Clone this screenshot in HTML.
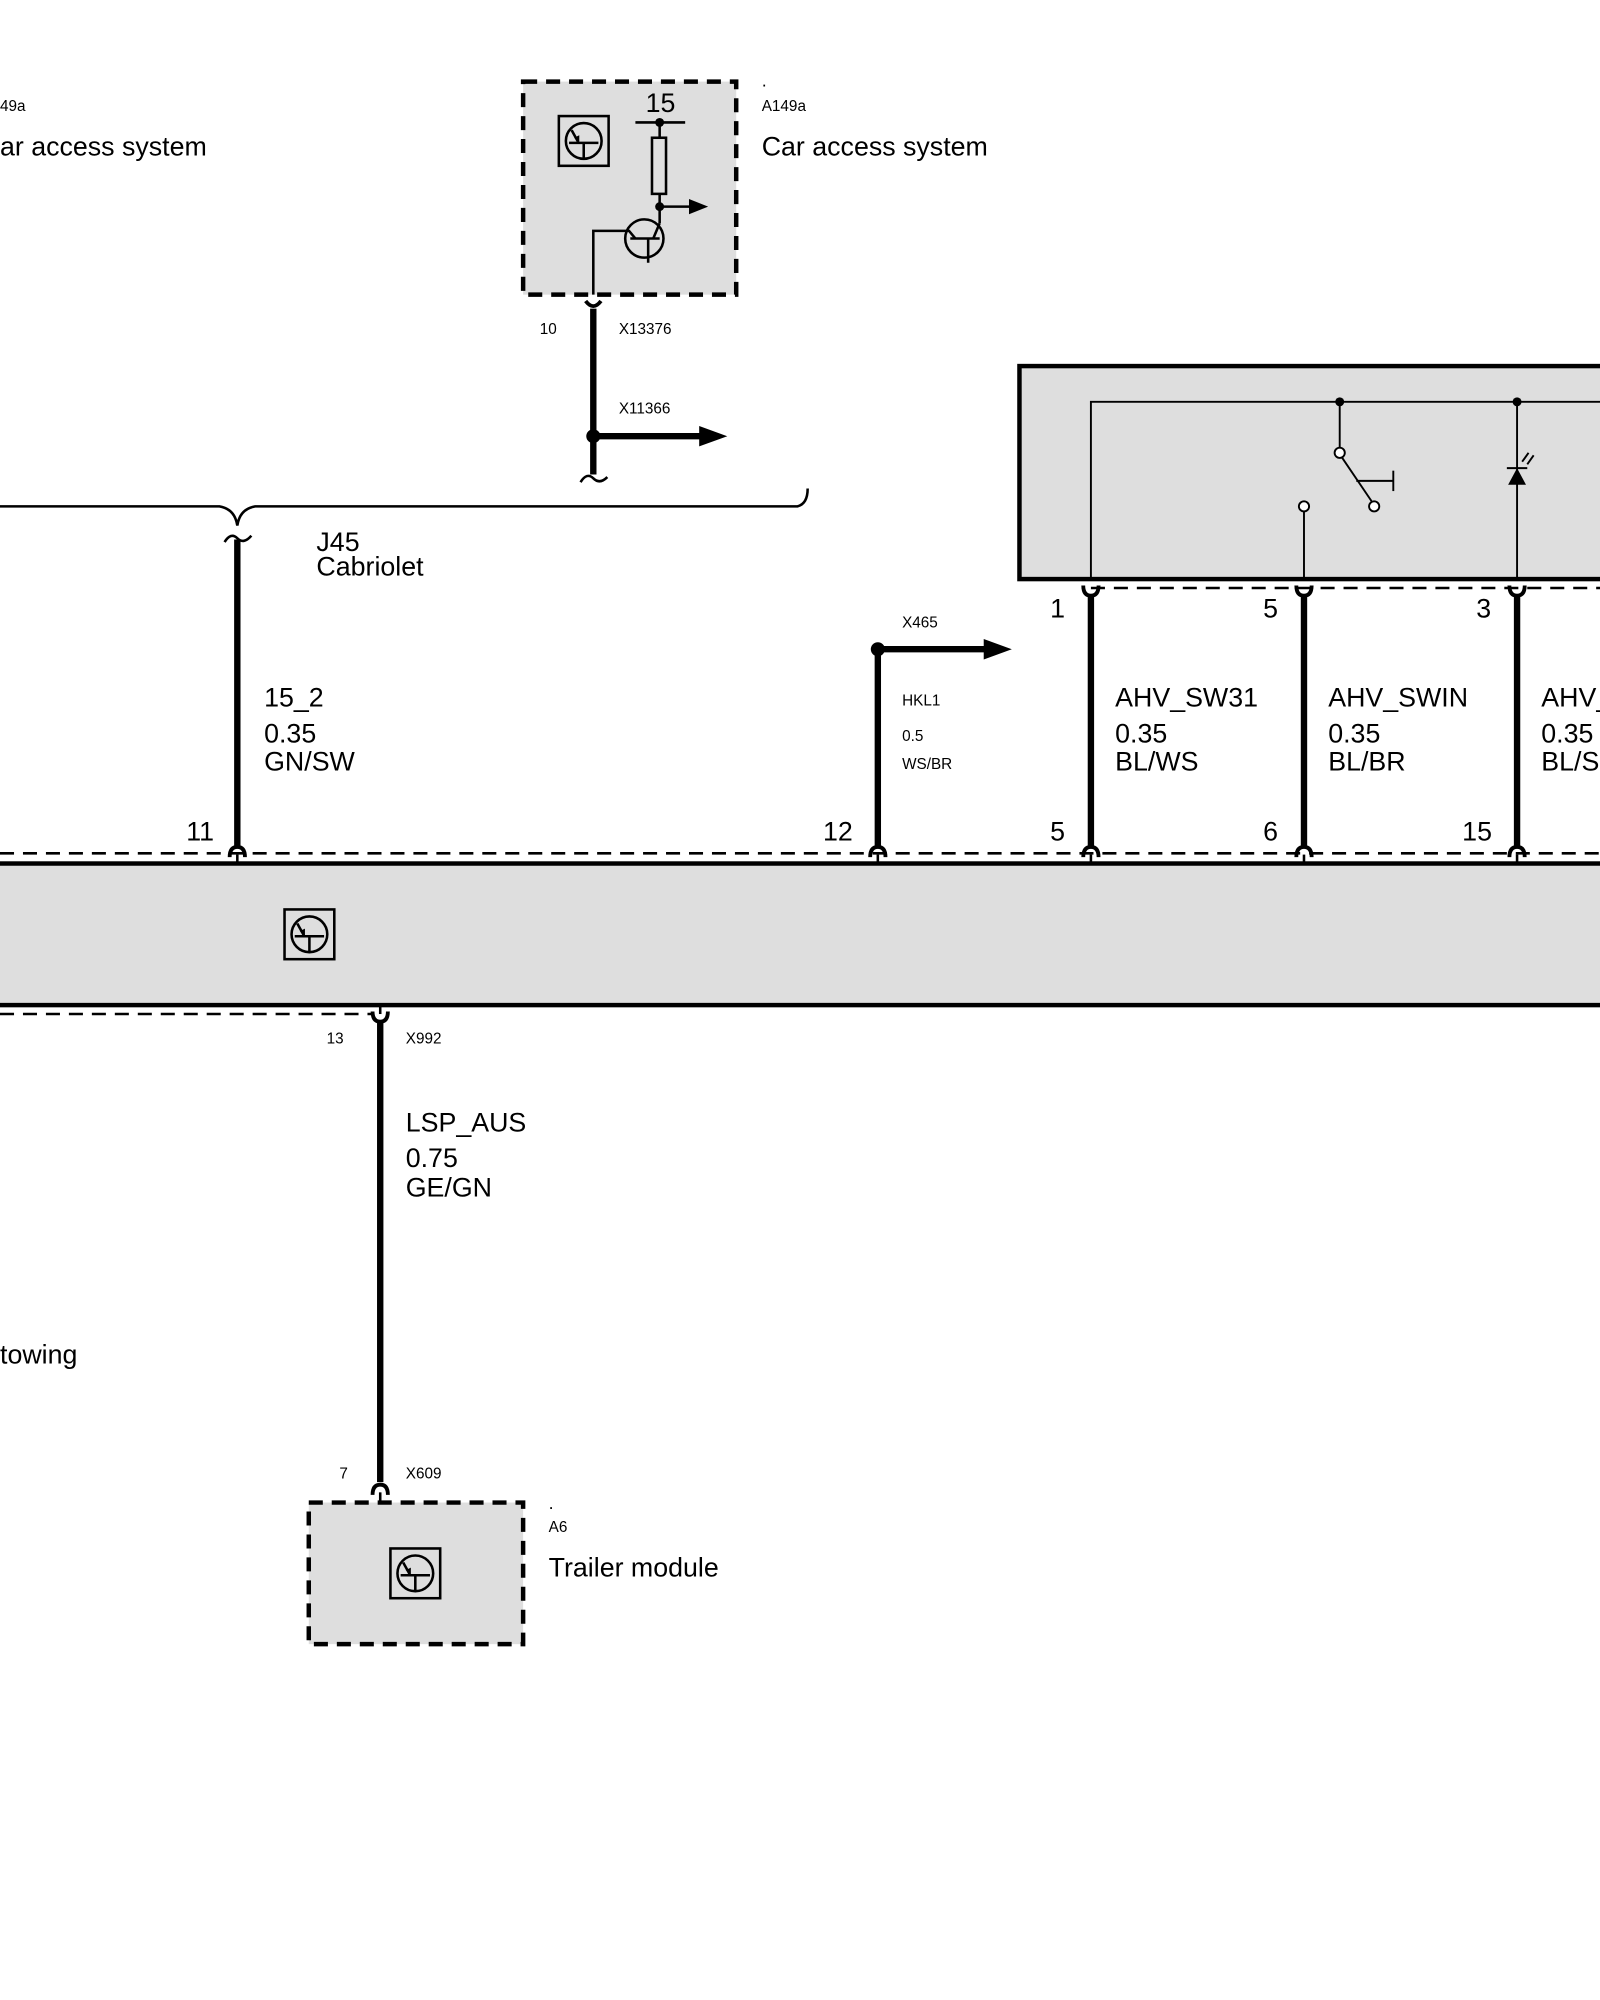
<!DOCTYPE html>
<html><head><style>html,body{margin:0;padding:0;background:#fff}svg{display:block}</style></head>
<body>
<svg width="1600" height="2000" viewBox="0 0 1254 1568" preserveAspectRatio="none" xmlns="http://www.w3.org/2000/svg" font-family="Liberation Sans, Arial, sans-serif">
<defs>
<g id="ic"><rect x="0" y="0" width="39" height="39" fill="none" stroke="#000" stroke-width="2"/><circle cx="19.5" cy="19.5" r="14" fill="none" stroke="#000" stroke-width="2"/><line x1="8" y1="21" x2="31" y2="21" stroke="#000" stroke-width="2"/><line x1="19.5" y1="21" x2="19.5" y2="33" stroke="#000" stroke-width="2"/><path d="M10 11 L15 20" stroke="#000" stroke-width="2"/><path d="M12 17 L16 21 L16 15 Z" fill="#000"/></g>
</defs>
<g fill="#000">
<text x="0" y="87" font-size="12">49a</text>
<text x="0" y="122" font-size="21">ar access system</text>
<text x="597" y="68" font-size="14">.</text>
<text x="597" y="87" font-size="12">A149a</text>
<text x="597" y="122" font-size="21">Car access system</text>
</g>
<rect x="410" y="64" width="167" height="167" fill="#dedede" stroke="#000" stroke-width="3.5" stroke-dasharray="11 7"/>
<use href="#ic" x="438" y="91"/>
<text x="506" y="88" font-size="21">15</text>
<line x1="498" y1="96" x2="537" y2="96" stroke="#000" stroke-width="2"/>
<circle cx="517" cy="96" r="3.5"/>
<line x1="517" y1="96" x2="517" y2="108" stroke="#000" stroke-width="2"/>
<rect x="511" y="108" width="11" height="44" fill="none" stroke="#000" stroke-width="2"/>
<line x1="517" y1="152" x2="517" y2="175" stroke="#000" stroke-width="2"/>
<circle cx="517" cy="162" r="3.5"/>
<line x1="517" y1="162" x2="545" y2="162" stroke="#000" stroke-width="2"/>
<path d="M540 156 L555 162 L540 168 Z"/>
<circle cx="505" cy="187" r="15" fill="none" stroke="#000" stroke-width="2"/>
<line x1="494" y1="187" x2="517" y2="187" stroke="#000" stroke-width="2"/>
<line x1="508" y1="187" x2="508" y2="206" stroke="#000" stroke-width="2"/>
<path d="M465 231 L465 181 L493 181 L498 187" fill="none" stroke="#000" stroke-width="2"/>
<path d="M517 175 L512 187" stroke="#000" stroke-width="2"/>
<path d="M459 236 Q465 244 471 236" fill="none" stroke="#000" stroke-width="3"/>
<line x1="465" y1="242" x2="465" y2="372" stroke="#000" stroke-width="5"/>
<circle cx="465" cy="342" r="5.5"/>
<line x1="465" y1="342" x2="552" y2="342" stroke="#000" stroke-width="5"/>
<path d="M548 334 L570 342 L548 350 Z"/>
<path d="M455 378 Q460 370 465 375 Q470 380 476 374" fill="none" stroke="#000" stroke-width="2"/>
<text x="423" y="262" font-size="12">10</text>
<text x="485" y="262" font-size="12">X13376</text>
<text x="485" y="324" font-size="12">X11366</text>
<path d="M0 397 L172 397 Q184 399 186 412 Q188 399 200 397 L625 397 Q633 395 633 383" fill="none" stroke="#000" stroke-width="2"/>
<path d="M176 425 Q181 417 186 422 Q191 427 197 420" fill="none" stroke="#000" stroke-width="2"/>
<line x1="186" y1="423" x2="186" y2="664" stroke="#000" stroke-width="5"/>
<text x="248" y="432" font-size="21">J45</text>
<text x="248" y="451" font-size="21">Cabriolet</text>
<text x="207" y="554" font-size="21">15_2</text>
<text x="207" y="582" font-size="21">0.35</text>
<text x="207" y="604" font-size="21">GN/SW</text>
<text x="146" y="659" font-size="21">11</text>
<line x1="688" y1="509" x2="688" y2="664" stroke="#000" stroke-width="5"/>
<circle cx="688" cy="509" r="5.5"/>
<line x1="688" y1="509" x2="775" y2="509" stroke="#000" stroke-width="5"/>
<path d="M771 501 L793 509 L771 517 Z"/>
<text x="707" y="492" font-size="12">X465</text>
<text x="707" y="553" font-size="12">HKL1</text>
<text x="707" y="581" font-size="12">0.5</text>
<text x="707" y="603" font-size="12">WS/BR</text>
<text x="645" y="659" font-size="21">12</text>
<rect x="799" y="287" width="470" height="167" fill="#dedede" stroke="#000" stroke-width="3.5"/>
<path d="M855 454 L855 315 L1260 315" fill="none" stroke="#000" stroke-width="1.5"/>
<circle cx="1050" cy="315" r="3.5"/><circle cx="1189" cy="315" r="3.5"/>
<line x1="1050" y1="315" x2="1050" y2="351" stroke="#000" stroke-width="1.5"/>
<circle cx="1050" cy="355" r="4" fill="#fff" stroke="#000" stroke-width="1.5"/>
<line x1="1052" y1="359" x2="1075" y2="393" stroke="#000" stroke-width="1.5"/>
<circle cx="1077" cy="397" r="4" fill="#fff" stroke="#000" stroke-width="1.5"/>
<line x1="1063" y1="377" x2="1092" y2="377" stroke="#000" stroke-width="1.5"/>
<line x1="1092" y1="369" x2="1092" y2="385" stroke="#000" stroke-width="1.5"/>
<circle cx="1022" cy="397" r="4" fill="#fff" stroke="#000" stroke-width="1.5"/>
<line x1="1022" y1="401" x2="1022" y2="454" stroke="#000" stroke-width="1.5"/>
<line x1="1189" y1="315" x2="1189" y2="454" stroke="#000" stroke-width="1.5"/>
<line x1="1181" y1="367" x2="1197" y2="367" stroke="#000" stroke-width="1.5"/>
<path d="M1189 367 L1182 380 L1196 380 Z"/>
<path d="M1193 362 L1198 355 M1197 364 L1202 357" stroke="#000" stroke-width="1.5"/>
<line x1="855" y1="461" x2="1254" y2="461" stroke="#000" stroke-width="2" stroke-dasharray="11 7"/>
<g stroke="#000" fill="none">
<path d="M849 459 Q849 467 855 467 Q861 467 861 459" stroke-width="3"/>
<path d="M1016 459 Q1016 467 1022 467 Q1028 467 1028 459" stroke-width="3"/>
<path d="M1183 459 Q1183 467 1189 467 Q1195 467 1195 459" stroke-width="3"/>
<line x1="855" y1="466" x2="855" y2="664" stroke-width="5"/>
<line x1="1022" y1="466" x2="1022" y2="664" stroke-width="5"/>
<line x1="1189" y1="466" x2="1189" y2="664" stroke-width="5"/>
</g>
<text x="823" y="484" font-size="21">1</text>
<text x="990" y="484" font-size="21">5</text>
<text x="1157" y="484" font-size="21">3</text>
<text x="874" y="554" font-size="21">AHV_SW31</text>
<text x="874" y="582" font-size="21">0.35</text>
<text x="874" y="604" font-size="21">BL/WS</text>
<text x="1041" y="554" font-size="21">AHV_SWIN</text>
<text x="1041" y="582" font-size="21">0.35</text>
<text x="1041" y="604" font-size="21">BL/BR</text>
<text x="1208" y="554" font-size="21">AHV_</text>
<text x="1208" y="582" font-size="21">0.35</text>
<text x="1208" y="604" font-size="21">BL/S</text>
<text x="823" y="659" font-size="21">5</text>
<text x="990" y="659" font-size="21">6</text>
<text x="1146" y="659" font-size="21">15</text>
<line x1="0" y1="669" x2="1254" y2="669" stroke="#000" stroke-width="2" stroke-dasharray="11 7"/>
<rect x="-5" y="677" width="1270" height="111" fill="#dedede" stroke="#000" stroke-width="3.5"/>
<g stroke="#000" fill="none" stroke-width="3">
<path d="M180 672 Q180 664 186 664 Q192 664 192 672"/>
<path d="M682 672 Q682 664 688 664 Q694 664 694 672"/>
<path d="M849 672 Q849 664 855 664 Q861 664 861 672"/>
<path d="M1016 672 Q1016 664 1022 664 Q1028 664 1028 672"/>
<path d="M1183 672 Q1183 664 1189 664 Q1195 664 1195 672"/>
</g>
<g stroke="#000" stroke-width="2"><line x1="186" y1="670" x2="186" y2="677"/><line x1="688" y1="670" x2="688" y2="677"/><line x1="855" y1="670" x2="855" y2="677"/><line x1="1022" y1="670" x2="1022" y2="677"/><line x1="1189" y1="670" x2="1189" y2="677"/></g>
<use href="#ic" x="223" y="713"/>
<line x1="0" y1="795" x2="292" y2="795" stroke="#000" stroke-width="2" stroke-dasharray="11 7"/>
<line x1="298" y1="788" x2="298" y2="795" stroke="#000" stroke-width="2"/>
<path d="M292 793 Q292 801 298 801 Q304 801 304 793" fill="none" stroke="#000" stroke-width="3"/>
<line x1="298" y1="800" x2="298" y2="1162" stroke="#000" stroke-width="5"/>
<path d="M292 1172 Q292 1164 298 1164 Q304 1164 304 1172" fill="none" stroke="#000" stroke-width="3"/>
<line x1="298" y1="1170" x2="298" y2="1178" stroke="#000" stroke-width="2"/>
<text x="256" y="818" font-size="12">13</text>
<text x="318" y="818" font-size="12">X992</text>
<text x="318" y="887" font-size="21">LSP_AUS</text>
<text x="318" y="915" font-size="21">0.75</text>
<text x="318" y="938" font-size="21">GE/GN</text>
<text x="0" y="1069" font-size="21">towing</text>
<text x="266" y="1159" font-size="12">7</text>
<text x="318" y="1159" font-size="12">X609</text>
<rect x="242" y="1178" width="168" height="111" fill="#dedede" stroke="#000" stroke-width="3.5" stroke-dasharray="11 7"/>
<use href="#ic" x="306" y="1214"/>
<text x="430" y="1183" font-size="14">.</text>
<text x="430" y="1201" font-size="12">A6</text>
<text x="430" y="1236" font-size="21">Trailer module</text>
</svg>
</body></html>
